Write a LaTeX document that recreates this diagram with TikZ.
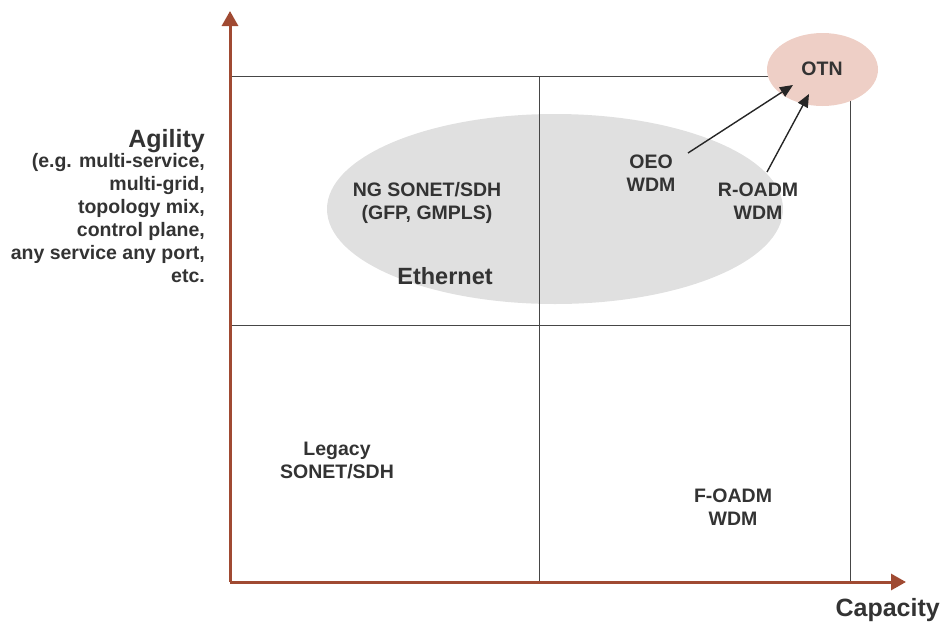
\documentclass[tikz,border=0pt]{standalone}
\usepackage{fontspec}
\setmainfont{Liberation Sans}
\usetikzlibrary{arrows.meta,shapes.geometric}
\definecolor{axisbrown}{RGB}{160,74,50}
\definecolor{gridgray}{RGB}{70,70,70}
\definecolor{blobgray}{RGB}{224,224,224}
\definecolor{otnpink}{RGB}{238,207,198}
\definecolor{txt}{RGB}{51,51,51}
\tikzset{
  lbl/.style={font=\bfseries\fontsize{19.5}{23}\selectfont, text=txt, align=center, inner sep=0pt},
  biglbl/.style={font=\bfseries\fontsize{25}{28}\selectfont, text=txt, inner sep=0pt},
  axisline/.style={draw=axisbrown, line width=3pt, -{Triangle[width=16pt,length=15pt]}},
  gridline/.style={draw=gridgray, line width=1pt},
  pointer/.style={draw=black!85, line width=1.4pt, -{Triangle[width=11pt,length=13pt]}},
}
\begin{document}
\begin{tikzpicture}[x=1pt,y=-1pt]
\useasboundingbox (0,0) rectangle (943,622);
% big gray ellipse
\node[ellipse, fill=blobgray, minimum width=456pt, minimum height=190pt, inner sep=0pt] (blob) at (555,209) {};
% grid
\draw[gridline] (230,76) rectangle (850,582);
\draw[gridline] (539,76) -- (539,582);
\draw[gridline] (230,325) -- (850,325);
% OTN ellipse
\node[ellipse, fill=otnpink, minimum width=111pt, minimum height=73pt, inner sep=0pt] (otnblob) at (822.5,69.5) {};
\node[lbl] (otn) at (822,69) {OTN};
% axes
\coordinate (origin) at (230,582);
\coordinate (ytip) at (230,11);
\coordinate (xtip) at (906,582);
\draw[axisline] (origin) -- (ytip);
\draw[axisline] (origin) -- (xtip);
% labels
\node[lbl] (ng) at (427,203) {NG SONET/SDH\\(GFP, GMPLS)};
\node[lbl, font=\bfseries\fontsize{23.5}{27}\selectfont] (eth) at (445,276) {Ethernet};
\node[lbl] (oeo) at (651,173) {OEO\\WDM};
\node[lbl] (roadm) at (758,201) {R-OADM\\WDM};
\node[lbl] (legacy) at (337,460) {Legacy\\SONET/SDH};
\node[lbl] (foadm) at (733,507) {F-OADM\\WDM};
\node[biglbl, anchor=base east] (agility) at (205,147) {Agility};
\node[lbl, align=right, anchor=north east] (agsub) at (205,153) {(e.g. multi-service,\\multi-grid,\\topology mix,\\control plane,\\any service any port,\\etc.};
\node[biglbl, anchor=base east] (capacity) at (940,616) {Capacity};
% pointers
\coordinate (oeostart) at (688,153);
\coordinate (oeoend) at (793,85);
\coordinate (roadmstart) at (767,172);
\coordinate (roadmend) at (809,94);
\draw[pointer] (oeostart) -- (oeoend);
\draw[pointer] (roadmstart) -- (roadmend);
\end{tikzpicture}
\end{document}
